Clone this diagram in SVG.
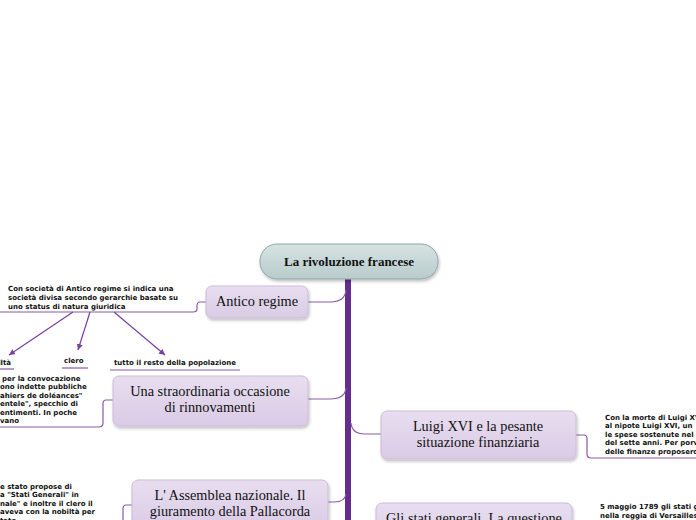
<svg xmlns="http://www.w3.org/2000/svg" width="696" height="520" viewBox="0 0 696 520">
<style>
.node{fill:url(#g);stroke:#cbbcd8;stroke-width:1}
.title{font-family:"Liberation Serif",serif;font-size:14.3px;fill:#111;text-anchor:middle}
.note{font-family:"DejaVu Sans",sans-serif;font-weight:bold;font-size:7px;fill:#111}
.con{fill:none;stroke:#8a5aa8;stroke-width:1.2}
.arr{fill:none;stroke:#7a3fa0;stroke-width:1.2;marker-end:url(#ah)}
</style>
<defs>
<linearGradient id="g" x1="0" y1="0" x2="0" y2="1"><stop offset="0" stop-color="#e8def0"/><stop offset="1" stop-color="#d9cbe5"/></linearGradient>
<linearGradient id="gc" x1="0" y1="0" x2="0" y2="1"><stop offset="0" stop-color="#d6e3e3"/><stop offset="1" stop-color="#b8cbcb"/></linearGradient>
<filter id="sh" x="-10%" y="-20%" width="120%" height="150%"><feDropShadow dx="1" dy="2" stdDeviation="1.5" flood-color="#000" flood-opacity="0.25"/></filter>
<marker id="ah" markerWidth="8" markerHeight="8" refX="6" refY="3" orient="auto" markerUnits="userSpaceOnUse"><path d="M0,0 L6,3 L0,6 Z" fill="#7a3fa0"/></marker>
</defs>
<rect width="696" height="520" fill="#fff"/>
<g id="connectors">
<path d="M348,279 V520" stroke="#662d91" stroke-width="6" fill="none"/>
<path class="con" d="M308,302 H330 Q345,302 346,290"/>
<path class="con" d="M308,399 H330 Q345,399 346,388"/>
<path class="con" d="M381,434 H365 Q352,434 351,423"/>
<path class="con" d="M328,502 H334 Q345,502 346,494"/>
<path class="con" d="M206,302 H200 Q197,302 197,306 V309 Q197,312 193,312 H0"/>
<path class="con" d="M113,400 H106 Q103,400 103,404 V423 Q103,427 99,427 H0"/>
<path class="con" d="M576,435 H584 Q587,435 587,439 V454 Q587,458 591,458 H696"/>
<path class="con" d="M132,505 H126 Q123,505 123,509 V520"/>
<path class="arr" d="M73,312 L9,355"/>
<path class="arr" d="M90,312 L78,350"/>
<path class="arr" d="M114,312 L165,355"/>
<path class="con" d="M0,369 H14"/>
<path class="con" d="M62,368 H88"/>
<path class="con" d="M110,370 H240"/>
</g>
<g id="central">
<rect x="260" y="244" width="178" height="35" rx="17" fill="url(#gc)" stroke="#8fa8a8" stroke-width="1" filter="url(#sh)"/>
<text x="349" y="266" class="title" font-weight="bold" style="font-size:13px">La rivoluzione francese</text>
</g>
<g id="antico">
<rect x="206" y="286" width="102" height="32" rx="6" class="node" filter="url(#sh)"/>
<text x="257" y="306" class="title">Antico regime</text>
</g>
<g id="antico-note">
<text class="note" x="8" y="291">Con società di Antico regime si indica una</text>
<text class="note" x="8" y="300">società divisa secondo gerarchie basate su</text>
<text class="note" x="8" y="309">uno status di natura giuridica</text>
</g>
<g id="nobilta"><text class="note" x="11" y="365" text-anchor="end">nobiltà</text></g>
<g id="clero"><text class="note" x="64" y="363">clero</text></g>
<g id="popolo"><text class="note" x="114" y="365">tutto il resto della popolazione</text></g>
<g id="straordinaria">
<rect x="113" y="376" width="195" height="50" rx="6" class="node" filter="url(#sh)"/>
<text x="210" y="396" class="title">Una straordinaria occasione</text>
<text x="210" y="412" class="title">di rinnovamenti</text>
</g>
<g id="straordinaria-note">
<text class="note" x="2" y="381">per la convocazione</text>
<text class="note" x="0" y="389">ono indette pubbliche</text>
<text class="note" x="0" y="398">ahiers de doléances"</text>
<text class="note" x="0" y="406">entele", specchio di</text>
<text class="note" x="0" y="415">entimenti. In poche</text>
<text class="note" x="0" y="423">vano</text>
</g>
<g id="luigi">
<rect x="381" y="411" width="195" height="48" rx="6" class="node" filter="url(#sh)"/>
<text x="478" y="431" class="title">Luigi XVI e la pesante</text>
<text x="478" y="447" class="title">situazione finanziaria</text>
</g>
<g id="luigi-note">
<text class="note" x="605" y="420">Con la morte di Luigi XV</text>
<text class="note" x="605" y="428">al nipote Luigi XVI, un</text>
<text class="note" x="605" y="437">le spese sostenute nel</text>
<text class="note" x="605" y="445">del sette anni. Per porv</text>
<text class="note" x="605" y="454">delle finanze proposero</text>
</g>
<g id="assemblea">
<rect x="132" y="480" width="196" height="50" rx="6" class="node" filter="url(#sh)"/>
<text x="230" y="500" class="title">L' Assemblea nazionale. Il</text>
<text x="230" y="516" class="title">giuramento della Pallacorda</text>
</g>
<g id="assemblea-note">
<text class="note" x="0" y="489">e stato propose di</text>
<text class="note" x="0" y="497">a "Stati Generali" in</text>
<text class="note" x="0" y="506">nale" e inoltre il clero il</text>
<text class="note" x="0" y="514">aveva con la nobiltà per</text>
<text class="note" x="0" y="523">tato</text>
</g>
<g id="stati">
<rect x="376" y="503" width="196" height="50" rx="6" class="node" filter="url(#sh)"/>
<text x="474" y="523" class="title">Gli stati generali. La questione</text>
</g>
<g id="stati-note">
<text class="note" x="600" y="509">5 maggio 1789 gli stati g</text>
<text class="note" x="600" y="518">nella reggia di Versailles</text>
</g>
</svg>
